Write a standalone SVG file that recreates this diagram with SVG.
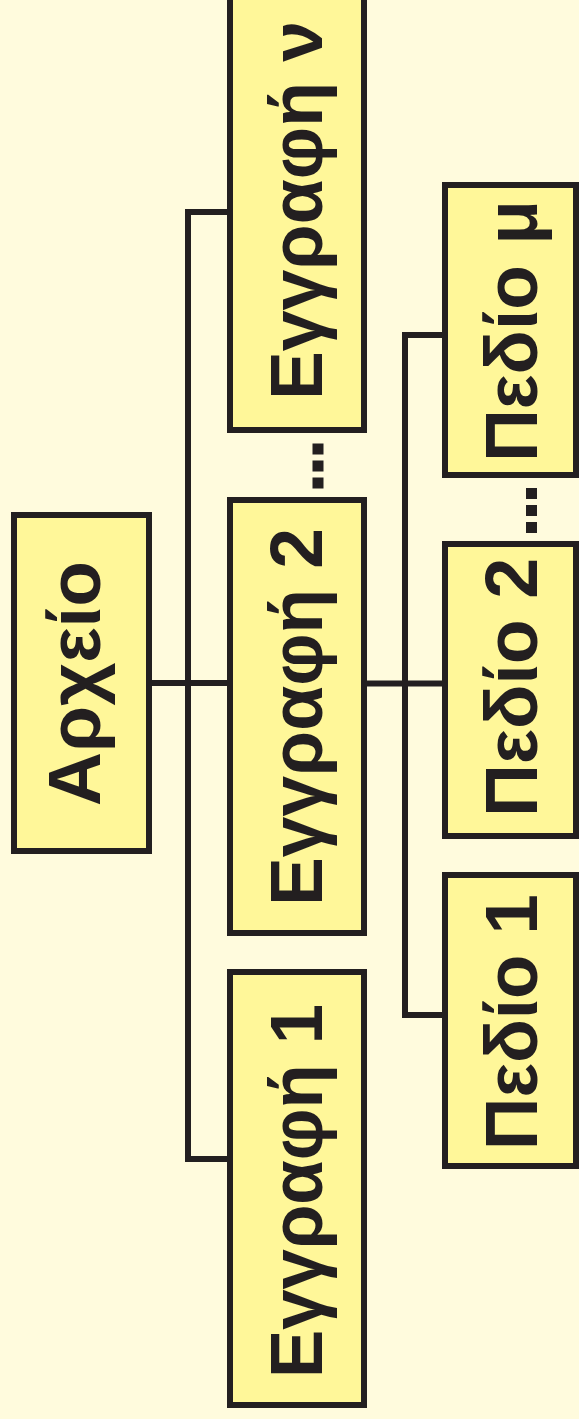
<svg xmlns="http://www.w3.org/2000/svg" width="579" height="1419" viewBox="0 0 579 1419">
<style>
.box{fill:#FFF799;stroke:#231F20;stroke-width:6}
.lbl{font-family:"Liberation Sans",Arial,sans-serif;font-weight:bold;font-size:75px;fill:#231F20}
.con{fill:none;stroke:#231F20;stroke-width:6;stroke-linejoin:miter;stroke-linecap:butt}
.dot{fill:#231F20}
</style>
<rect x="0" y="0" width="579" height="1419" fill="#FFFBDD"/>
<g id="connectors">
<path class="con" d="M152 683 H227"/>
<path class="con" d="M227 212 H188 V1159 H227"/>
<path class="con" d="M367 683.5 H442"/>
<path class="con" d="M442 335 H405 V1015 H442"/>
<rect class="dot" x="312.5" y="443.5" width="11" height="11"/>
<rect class="dot" x="312.5" y="460.5" width="11" height="11"/>
<rect class="dot" x="312.5" y="477.5" width="11" height="11"/>
<rect class="dot" x="526" y="488" width="11" height="11"/>
<rect class="dot" x="526" y="505" width="11" height="11"/>
<rect class="dot" x="526" y="522" width="11" height="11"/>
</g>
<g id="archeio">
<rect class="box" x="14" y="515" width="135" height="336"/>
<text class="lbl" transform="translate(100,806) rotate(-90)" textLength="245" lengthAdjust="spacingAndGlyphs">Αρχείο</text>
</g>
<g id="eggrafi-n">
<rect class="box" x="230" y="-10" width="134" height="440"/>
<text class="lbl" transform="translate(322,400) rotate(-90)" textLength="379" lengthAdjust="spacingAndGlyphs">Εγγραφή ν</text>
</g>
<g id="eggrafi-2">
<rect class="box" x="230" y="500" width="134" height="433"/>
<text class="lbl" transform="translate(322,906) rotate(-90)" textLength="378" lengthAdjust="spacingAndGlyphs">Εγγραφή 2</text>
</g>
<g id="eggrafi-1">
<rect class="box" x="230" y="972" width="134" height="433"/>
<text class="lbl" transform="translate(322,1378) rotate(-90)" textLength="374" lengthAdjust="spacingAndGlyphs">Εγγραφή 1</text>
</g>
<g id="pedio-m">
<rect class="box" x="445" y="185" width="131" height="290"/>
<text class="lbl" transform="translate(537,462) rotate(-90)" textLength="262" lengthAdjust="spacingAndGlyphs">Πεδίο μ</text>
</g>
<g id="pedio-2">
<rect class="box" x="445" y="544" width="131" height="292"/>
<text class="lbl" transform="translate(537,817) rotate(-90)" textLength="259" lengthAdjust="spacingAndGlyphs">Πεδίο 2</text>
</g>
<g id="pedio-1">
<rect class="box" x="445" y="875" width="131" height="291"/>
<text class="lbl" transform="translate(537,1150) rotate(-90)" textLength="256" lengthAdjust="spacingAndGlyphs">Πεδίο 1</text>
</g>
</svg>
